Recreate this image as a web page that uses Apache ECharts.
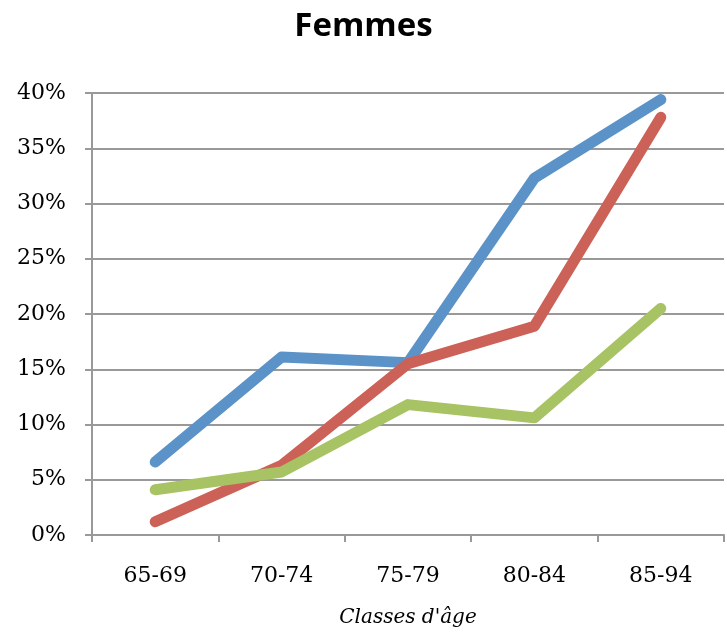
<!DOCTYPE html>
<html><head><meta charset="utf-8">
<script src="https://cdn.jsdelivr.net/npm/echarts@6/dist/echarts.min.js"></script>
<style>html,body{margin:0;padding:0;background:#fff;overflow:hidden}#c{width:727px;height:633px}</style>
</head><body><div id="c"></div>
<script>
const categories = ['65-69', '70-74', '75-79', '80-84', '85-94'];
const blueSeries = [6.6, 16.1, 15.6, 32.3, 39.4];
const redSeries = [1.2, 6.3, 15.5, 18.9, 37.8];
const greenSeries = [4.1, 5.7, 11.8, 10.6, 20.5];
const yTicks = { min: 0, max: 40, interval: 5 };

const chart = echarts.init(document.getElementById('c'), null, { renderer: 'canvas', width: 727, height: 633 });
const serif = 'DejaVu Serif';
const lineSeries = (data, color) => ({
  type: 'line', data, symbol: 'none', smooth: false,
  lineStyle: { color, width: 11, cap: 'round', join: 'round' },
  animation: false
});
chart.setOption({
  backgroundColor: '#ffffff',
  title: {
    text: 'Femmes', left: 'center', top: 5,
    textStyle: { fontFamily: 'Open Sans', fontWeight: 'bold', fontSize: 33, color: '#000' }
  },
  grid: { left: 92, right: 3, top: 93, height: 445, containLabel: false },
  xAxis: {
    type: 'category', data: categories, boundaryGap: true,
    name: "Classes d'âge", nameLocation: 'middle', nameGap: 73,
    nameTextStyle: { fontFamily: serif, fontStyle: 'italic', fontSize: 20, color: '#000' },
    axisLine: { lineStyle: { color: '#999', width: 2 } },
    axisTick: { show: true, length: 7, alignWithLabel: false, lineStyle: { color: '#999', width: 2 } },
    axisLabel: { fontFamily: serif, fontSize: 22, color: '#000', margin: 30 }
  },
  yAxis: {
    type: 'value', min: yTicks.min, max: yTicks.max, interval: yTicks.interval,
    axisLine: { show: true, lineStyle: { color: '#999', width: 2 } },
    axisTick: { show: true, length: 7, lineStyle: { color: '#999', width: 2 } },
    splitLine: { show: true, lineStyle: { color: '#999', width: 2 } },
    axisLabel: { fontFamily: serif, fontSize: 22, color: '#000', margin: 26, formatter: v => v + '%' }
  },
  series: [
    lineSeries(blueSeries, '#5B93C8'),
    lineSeries(redSeries, '#CC6158'),
    lineSeries(greenSeries, '#A7C364')
  ]
});
</script></body></html>
